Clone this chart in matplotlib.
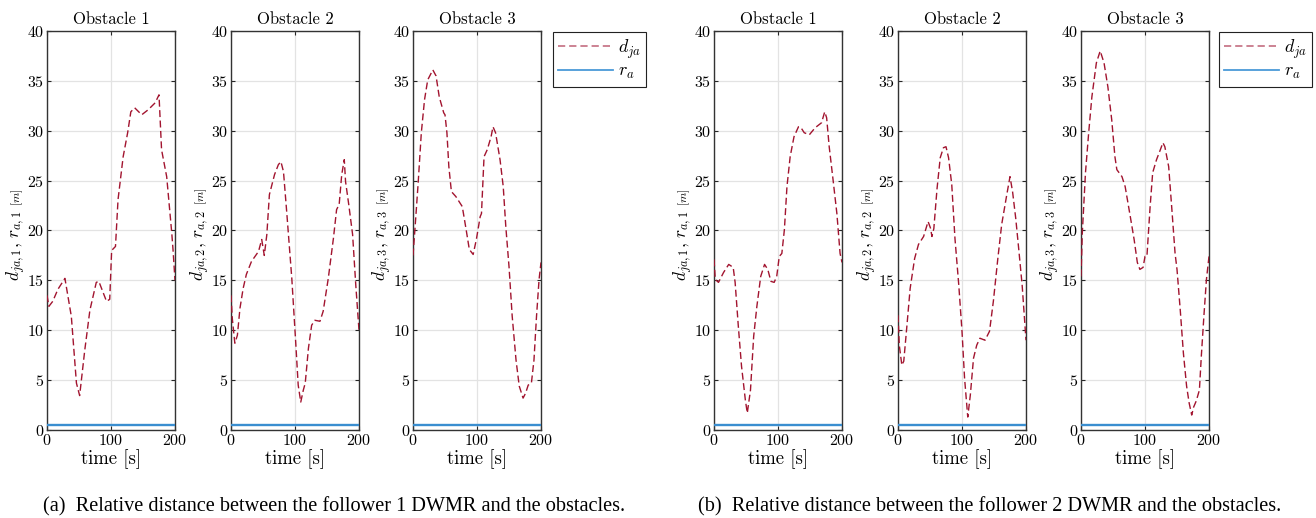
import numpy as np
import matplotlib.pyplot as plt
from matplotlib.lines import Line2D

plt.rcParams['font.family'] = 'cmr10'
plt.rcParams['mathtext.fontset'] = 'cm'
plt.rcParams['axes.formatter.use_mathtext'] = True

# ---- data (time [s], distance [m]) ----
# follower 1
t_a1 = [0, 3, 9, 17, 28, 38, 46, 51, 59, 67, 77, 81, 93, 98, 101, 107, 111, 119,
        126, 131, 137, 148, 158, 169, 175, 179, 187, 195, 197, 200]
d_a1 = [13.5, 12.4, 12.9, 14.1, 15.2, 11.4, 4.7, 3.45, 8.0, 12.0, 14.8, 14.9, 12.9,
        13.1, 18.0, 18.4, 23.1, 27.4, 29.8, 31.9, 32.3, 31.6, 32.1, 32.8, 33.6, 28.1,
        25.4, 19.7, 18.0, 15.0]
t_a2 = [0, 2, 6, 10, 14, 19, 24, 32, 43, 48, 52, 56, 60, 68, 74, 78, 82, 87, 95,
        101, 105, 109, 113, 116, 121, 126, 131, 139, 144, 152, 160, 165, 169, 173,
        177, 179, 184, 190, 195, 200]
d_a2 = [13.5, 11.2, 8.7, 9.5, 12.2, 14.2, 15.6, 16.9, 17.9, 19.1, 17.5, 19.6, 23.6,
        25.6, 26.6, 26.9, 25.9, 21.9, 15.2, 8.9, 4.5, 2.8, 4.0, 4.7, 8.2, 10.5, 11.0,
        10.9, 11.9, 15.2, 19.2, 22.1, 22.6, 25.6, 27.1, 24.9, 22.6, 19.6, 14.5, 10.0]
t_a3 = [0, 3, 8, 13, 18, 23, 31, 36, 41, 48, 50, 53, 56, 60, 67, 77, 83, 88, 94,
        99, 105, 107, 111, 116, 122, 125, 129, 136, 141, 145, 150, 155, 161, 166,
        172, 176, 180, 185, 189, 193, 197, 200]
d_a3 = [17.5, 20.1, 24.7, 29.8, 33.1, 35.1, 36.1, 35.5, 33.4, 31.8, 31.6, 29.8,
        26.4, 23.9, 23.4, 22.4, 20.1, 18.1, 17.6, 19.1, 21.4, 21.7, 27.4, 28.1,
        29.4, 30.4, 29.8, 27.1, 24.4, 20.4, 16.4, 11.4, 7.0, 4.4, 3.2, 3.7, 4.5,
        4.7, 7.0, 11.4, 15.1, 16.8]
# follower 2
t_b1 = [0, 2, 7, 15, 23, 30, 33, 38, 43, 49, 52, 57, 62, 67, 73, 79, 84, 89, 94,
        98, 102, 106, 110, 114, 119, 125, 132, 136, 141, 149, 158, 168, 173, 176,
        180, 186, 192, 197, 200]
d_b1 = [17.1, 15.1, 14.8, 15.8, 16.6, 16.3, 14.8, 10.4, 6.4, 3.0, 1.7, 4.0, 9.4,
        12.4, 15.4, 16.6, 16.1, 14.9, 14.8, 15.4, 17.4, 17.7, 20.1, 24.4, 27.4,
        29.4, 30.4, 30.3, 29.8, 29.6, 30.3, 30.8, 31.9, 31.3, 28.4, 25.1, 21.7,
        17.7, 16.8]
t_b2 = [0, 2, 6, 9, 14, 19, 26, 32, 40, 47, 51, 53, 56, 61, 66, 71, 75, 79, 84,
        89, 95, 100, 104, 109, 113, 118, 123, 128, 136, 143, 149, 156, 162, 170,
        175, 179, 184, 189, 194, 200]
d_b2 = [11.5, 8.5, 6.5, 6.9, 10.5, 14.2, 17.2, 18.6, 19.4, 20.9, 20.2, 19.4, 20.2,
        24.2, 27.3, 28.3, 28.4, 27.3, 24.6, 19.2, 14.5, 9.9, 5.2, 1.3, 3.5, 7.2,
        8.5, 9.2, 9.0, 9.9, 12.9, 17.2, 20.6, 23.6, 25.4, 23.9, 21.2, 17.9, 14.5,
        9.0]
t_b3 = [0, 2, 7, 12, 17, 24, 30, 36, 42, 48, 53, 56, 64, 69, 77, 83, 88, 92, 97,
        100, 103, 108, 112, 118, 124, 128, 131, 137, 142, 147, 150, 155, 160, 165,
        169, 173, 176, 180, 185, 188, 192, 196, 200]
d_b3 = [15.4, 19.7, 25.8, 29.8, 33.4, 36.8, 38.0, 36.8, 34.4, 31.1, 27.4, 26.1,
        25.4, 24.4, 21.4, 19.1, 16.8, 16.1, 16.3, 17.4, 17.4, 22.4, 25.8, 27.1,
        28.1, 28.8, 28.4, 26.4, 22.1, 17.7, 16.1, 12.1, 7.7, 4.4, 2.7, 1.5, 2.3,
        2.9, 4.0, 7.4, 11.4, 15.1, 17.4]
r_a = 0.5

panels = [
    [(t_a1, d_a1), (t_a2, d_a2), (t_a3, d_a3)],
    [(t_b1, d_b1), (t_b2, d_b2), (t_b3, d_b3)],
]
titles = ['Obstacle 1', 'Obstacle 2', 'Obstacle 3']
captions = ['(a)  Relative distance between the follower 1 DWMR and the obstacles.',
            '(b)  Relative distance between the follower 2 DWMR and the obstacles.']
c_d = '#A2142F'
c_r = '#3A8ED0'

W, H = 1316, 518
fig = plt.figure(figsize=(W / 100, H / 100), dpi=100)

lefts = [[47, 231, 413], [714, 898, 1081]]
legend_x = [553, 1219]
caption_x = [334, 990]
ax_w, ax_top, ax_bot = 128, 31, 430

# legend handles drawn a bit lighter, as in the reference
handles = [Line2D([], [], color='#C8788A', lw=1.3, dashes=(4, 2.2)),
           Line2D([], [], color='#4A9AD8', lw=1.3)]

axes_all = []
for p in range(2):
    for k in range(3):
        t, d = panels[p][k]
        ax = fig.add_axes([lefts[p][k] / W, (H - ax_bot) / H, ax_w / W, (ax_bot - ax_top) / H])
        ax.plot(t, d, color=c_d, lw=1.0, dashes=(5, 2.5), zorder=3)
        ax.plot([0, 200], [r_a, r_a], color=c_r, lw=1.7, zorder=3)
        ax.set_xlim(0, 200)
        ax.set_ylim(0, 40)
        ax.set_xticks([0, 100, 200])
        ax.set_yticks(np.arange(0, 41, 5))
        ax.grid(True, color='#e3e3e3', lw=0.9)
        ax.set_axisbelow(True)
        ax.tick_params(direction='in', top=True, right=True, length=3, width=0.8,
                       labelsize=11.5, pad=2, color='#262626')
        for s in ax.spines.values():
            s.set_color('#333333')
            s.set_linewidth(1.0)
        ax.set_title(titles[k], fontsize=12, pad=5)
        ax.set_xlabel('time [s]', fontsize=13.5, labelpad=1)
        axes_all.append((ax, k))
        if k == 2:
            ax.legend(handles, [r'$d_{ja}$', r'$r_a$'], loc='upper left',
                      bbox_to_anchor=(legend_x[p] / W, 1 - 32 / H),
                      bbox_transform=fig.transFigure, borderaxespad=0, fontsize=13,
                      handlelength=3.0, handletextpad=0.3, fancybox=False,
                      edgecolor='#222222', framealpha=1, borderpad=0.3,
                      labelspacing=0.15).get_frame().set_linewidth(0.8)
    fig.text(caption_x[p] / W, 1 - 507 / H, captions[p], family='Liberation Serif',
             fontsize=14.6, ha='center', va='center')

# y labels: main part plus smaller unit
fig.canvas.draw()
r = fig.canvas.get_renderer()
for ax, k in axes_all:
    x0 = ax.get_position().x0 * W - 27
    lab = fig.text(x0 / W, 1 - 281 / H, r'$d_{ja,%d},\, r_{a,%d}$' % (k + 1, k + 1),
                   fontsize=12.5, rotation=90, rotation_mode='anchor',
                   ha='left', va='baseline')
    bb = lab.get_window_extent(r)
    fig.text(x0 / W, (bb.y1 + 5) / H, r'$[m]$', fontsize=8.5, rotation=90,
             rotation_mode='anchor', ha='left', va='baseline')

fig.savefig('out.png', dpi=100)
